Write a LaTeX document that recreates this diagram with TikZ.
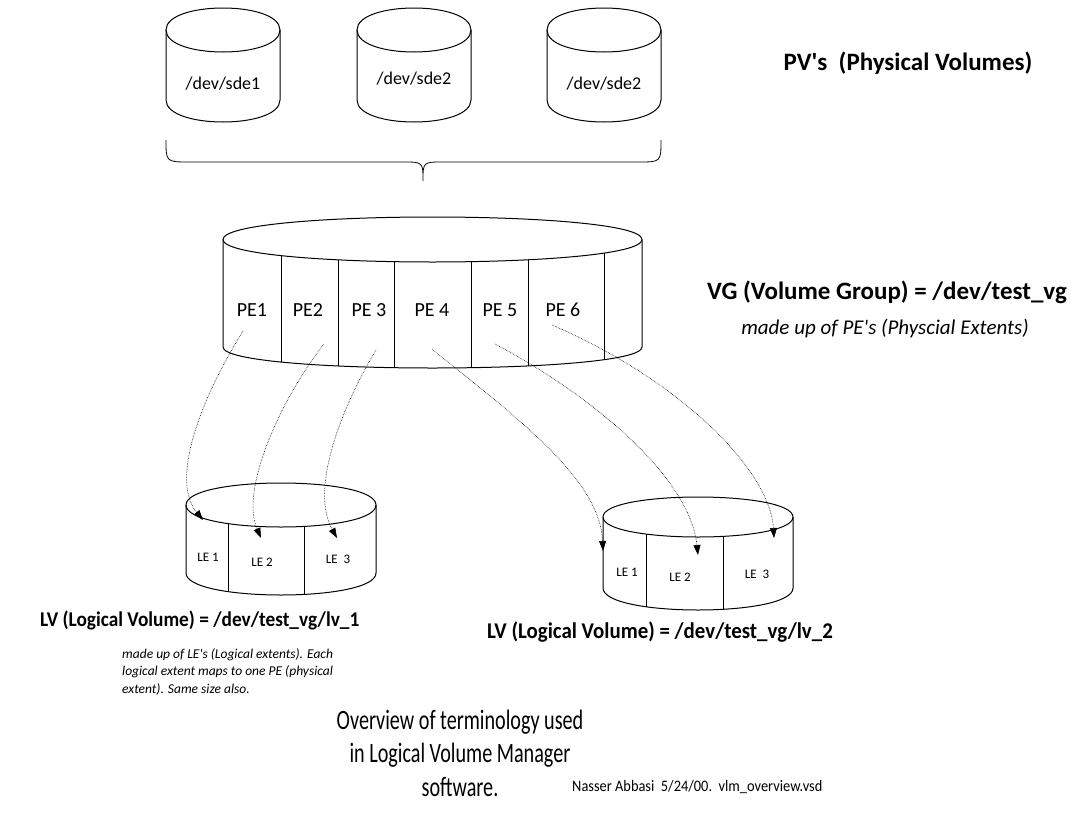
\documentclass[tikz,border=0pt]{standalone}
\usepackage{fontspec}
\setmainfont{Carlito}
\usepackage{tikz}
\usetikzlibrary{positioning, arrows.meta}

\tikzset{
  part/.style={line width=1pt},
  map/.style={densely dotted, line width=0.6pt, -{Triangle[length=10pt,width=7pt]}},
  txt/.style={inner sep=0pt, font=\fontsize{#1}{#1}\selectfont},
}
\newcommand{\narrow}[2]{\scalebox{#1}[1]{#2}}
\newcommand{\q}{\textquotesingle}
% drum: centre x, top y, bottom y, x radius, top y radius, bottom y radius
\newcommand{\drum}[6]{%
  \draw[part] (#1-#4,#2) .. controls (#1-#4,#2-1.3333*#5) and (#1+#4,#2-1.3333*#5) .. (#1+#4,#2)
    .. controls (#1+#4,#2+1.3333*#5) and (#1-#4,#2+1.3333*#5) .. (#1-#4,#2) -- cycle;
  \draw[part] (#1-#4,#2) -- (#1-#4,#3)
    .. controls (#1-#4,#3+1.3333*#6) and (#1+#4,#3+1.3333*#6) .. (#1+#4,#3) -- (#1+#4,#2);
}
\newcommand{\drumfront}[6]{%
  \clip (#1-#4,#2) .. controls (#1-#4,#2+1.3333*#5) and (#1+#4,#2+1.3333*#5) .. (#1+#4,#2)
    -- (#1+#4,#3) .. controls (#1+#4,#3+1.3333*#6) and (#1-#4,#3+1.3333*#6) .. (#1-#4,#3) -- cycle;
}

\begin{document}
\begin{tikzpicture}[x=1pt, y=-1pt]
  \useasboundingbox (0,0) rectangle (1076,822);

  % physical volumes
  \drum{223}{30}{100}{57}{22}{22}
  \drum{414}{30}{100}{57}{22}{22}
  \drum{604}{30}{100}{57}{22}{22}
  \node[txt=18] (sde1) at (223,84) {/dev/sde1};
  \node[txt=18] (sde2) at (414,79) {/dev/sde2};
  \node[txt=18] (sde3) at (604,84) {/dev/sde2};

  % brace
  \draw[line width=0.8pt] (166,140) .. controls (166,162) .. (190,162) -- (403,162)
    .. controls (423,162) .. (423,181) .. controls (423,162) .. (443,162) -- (638,162)
    .. controls (661,162) .. (661,140);

  % volume group
  \drum{432.5}{239.5}{347}{209.5}{22.5}{21}
  \begin{scope}
    \drumfront{432.5}{239.5}{347}{209.5}{22.5}{21}
    \foreach \x in {281,338,394,471,528,604}
      \draw[part] (\x,200) -- (\x,400);
  \end{scope}
  \node[txt=20] (pe1) at (252,310) {PE1};
  \node[txt=20] (pe2) at (308,310) {PE2};
  \node[txt=20] (pe3) at (369,310) {PE 3};
  \node[txt=20] (pe4) at (432,310) {PE 4};
  \node[txt=20] (pe5) at (500,310) {PE 5};
  \node[txt=20] (pe6) at (563,310) {PE 6};

  % logical volume 1
  \drum{281}{505}{573}{95}{22}{22}
  \begin{scope}
    \drumfront{281}{505}{573}{95}{22}{22}
    \foreach \x in {228,304}
      \draw[part] (\x,480) -- (\x,620);
  \end{scope}
  \node[txt=13] (la1) at (208,557) {LE 1};
  \node[txt=13] (la2) at (262,562) {LE 2};
  \node[txt=13] (la3) at (338,559) {LE\ \ 3};

  % logical volume 2
  \drum{698}{517}{588}{95}{20}{22}
  \begin{scope}
    \drumfront{698}{517}{588}{95}{20}{22}
    \foreach \x in {646,723}
      \draw[part] (\x,490) -- (\x,640);
  \end{scope}
  \node[txt=13] (lb1) at (627,572) {LE 1};
  \node[txt=13] (lb2) at (680,577) {LE 2};
  \node[txt=13] (lb3) at (757,574) {LE\ \ 3};

  % extent mapping
  \coordinate (s1) at (243,331); \coordinate (t1) at (203,520);
  \coordinate (s2) at (324,344); \coordinate (t2) at (261,538);
  \coordinate (s3) at (376,350); \coordinate (t3) at (337,538);
  \coordinate (s4) at (432,349); \coordinate (t4) at (603,551);
  \coordinate (s5) at (495,344); \coordinate (t5) at (698,555);
  \coordinate (s6) at (552,325); \coordinate (t6) at (774,538);
  \draw[map] (s1) .. controls (200,400) and (170,480) .. (t1);
  \draw[map] (s2) .. controls (280,400) and (240,490) .. (t2);
  \draw[map] (s3) .. controls (340,410) and (310,490) .. (t3);
  \draw[map] (s4) .. controls (520,420) and (600,480) .. (t4);
  \draw[map] (s5) .. controls (600,400) and (690,480) .. (t5);
  \draw[map] (s6) .. controls (680,380) and (770,470) .. (t6);

  % labels
  \node[txt=25] (pvs) at (908,63) {\bfseries PV\q s\ \ (Physical Volumes)};
  \node[txt=25] (vg) at (887,292) {\bfseries VG (Volume Group) = /dev/test\_vg};
  \node[txt=21] (vgnote) at (885,329) {\itshape made up of PE\q s (Physcial Extents)};
  \node[txt=21, anchor=west] (lv1) at (40,620) {\narrow{0.92}{\bfseries LV (Logical Volume) = /dev/test\_vg/lv\_1}};
  \node[txt=22.5, anchor=west] (lv2) at (487,632) {\narrow{0.93}{\bfseries LV (Logical Volume) = /dev/test\_vg/lv\_2}};
  \node[inner sep=0pt, font=\fontsize{13.5}{17.5}\selectfont\itshape, anchor=north west, align=left] (lvnote) at (122,648)
    {made up of LE\q s (Logical extents). Each\\ logical extent maps to one PE (physical\\ extent). Same size also.};
  \node[inner sep=0pt, font=\fontsize{28}{33.5}\selectfont, align=center] (title) at (460,753)
    {\narrow{0.72}{Overview of terminology used}\\ \narrow{0.72}{in Logical Volume Manager}\\ \narrow{0.72}{software.}};
  \node[txt=16, anchor=west] (credit) at (572,787) {\narrow{0.9}{Nasser Abbasi\ \ 5/24/00.\ \ vlm\_overview.vsd}};
\end{tikzpicture}
\end{document}
